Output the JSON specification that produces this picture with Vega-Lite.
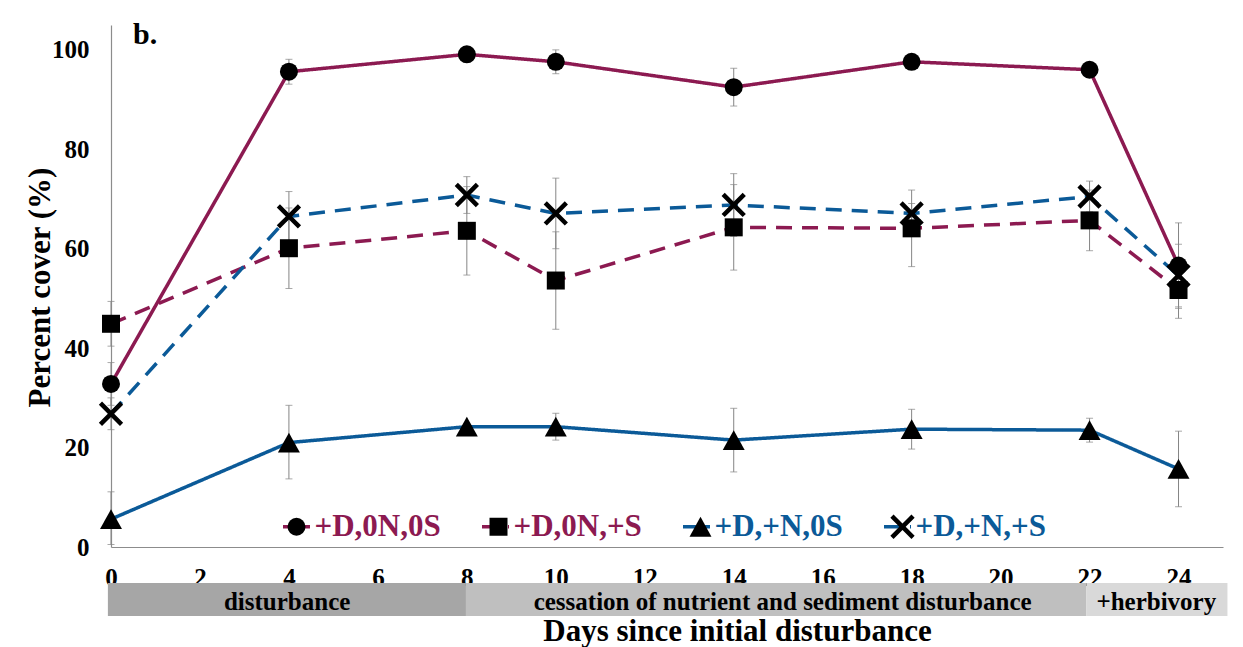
{
  "$schema": "https://vega.github.io/schema/vega-lite/v6.json",
  "width": 1112,
  "height": 522,
  "autosize": {"type": "none"},
  "padding": {"left": 111, "top": 25, "right": 20, "bottom": 100},
  "background": "white",
  "config": {
    "view": {"stroke": null},
    "font": "Liberation Serif",
    "axis": {
      "labelFont": "Liberation Serif",
      "labelFontWeight": "bold",
      "labelFontSize": 25,
      "labelColor": "black",
      "titleFont": "Liberation Serif",
      "titleFontWeight": "bold",
      "titleFontSize": 31,
      "titleColor": "black",
      "domainColor": "#8c8c8c",
      "domainWidth": 1.2,
      "ticks": false,
      "grid": false,
      "labelFlush": false,
      "labelOverlap": false,
      "labelBound": false
    }
  },
  "title": {
    "text": "b.",
    "anchor": "start",
    "frame": "group",
    "orient": "top",
    "offset": -49,
    "dx": 22,
    "font": "Liberation Serif",
    "fontWeight": "bold",
    "fontSize": 30,
    "color": "black",
    "baseline": "alphabetic"
  },
  "datasets": {
    "obs": [
      {"series": "+D,0N,0S", "day": 0, "value": 32.8, "lo": 28.5, "hi": 37.1},
      {"series": "+D,0N,0S", "day": 4, "value": 95.6, "lo": 93.1, "hi": 98.1},
      {"series": "+D,0N,0S", "day": 8, "value": 99.1, "lo": 98.5, "hi": 99.7},
      {"series": "+D,0N,0S", "day": 10, "value": 97.6, "lo": 95.2, "hi": 100.0},
      {"series": "+D,0N,0S", "day": 14, "value": 92.5, "lo": 88.7, "hi": 96.3},
      {"series": "+D,0N,0S", "day": 18, "value": 97.6, "lo": 96.1, "hi": 99.1},
      {"series": "+D,0N,0S", "day": 22, "value": 96.0, "lo": 95.2, "hi": 96.8},
      {"series": "+D,0N,0S", "day": 24, "value": 56.6, "lo": 48.0, "hi": 65.2},
      {"series": "+D,0N,+S", "day": 0, "value": 44.9, "lo": 40.4, "hi": 49.4},
      {"series": "+D,0N,+S", "day": 4, "value": 60.1, "lo": 52.0, "hi": 68.2},
      {"series": "+D,0N,+S", "day": 8, "value": 63.6, "lo": 54.7, "hi": 72.5},
      {"series": "+D,0N,+S", "day": 10, "value": 53.6, "lo": 43.8, "hi": 63.4},
      {"series": "+D,0N,+S", "day": 14, "value": 64.3, "lo": 55.7, "hi": 72.9},
      {"series": "+D,0N,+S", "day": 18, "value": 64.1, "lo": 56.4, "hi": 71.8},
      {"series": "+D,0N,+S", "day": 22, "value": 65.7, "lo": 59.6, "hi": 71.8},
      {"series": "+D,0N,+S", "day": 24, "value": 51.7, "lo": 46.0, "hi": 57.4},
      {"series": "+D,+N,0S", "day": 0, "value": 5.6, "lo": 0.5, "hi": 11.1},
      {"series": "+D,+N,0S", "day": 4, "value": 21.0, "lo": 13.7, "hi": 28.5},
      {"series": "+D,+N,0S", "day": 8, "value": 24.2, "lo": 23.7, "hi": 24.7},
      {"series": "+D,+N,0S", "day": 10, "value": 24.2, "lo": 21.5, "hi": 26.9},
      {"series": "+D,+N,0S", "day": 14, "value": 21.5, "lo": 15.1, "hi": 27.9},
      {"series": "+D,+N,0S", "day": 18, "value": 23.7, "lo": 19.7, "hi": 27.7},
      {"series": "+D,+N,0S", "day": 22, "value": 23.5, "lo": 21.1, "hi": 25.9},
      {"series": "+D,+N,0S", "day": 24, "value": 15.7, "lo": 8.1, "hi": 23.3},
      {"series": "+D,+N,+S", "day": 0, "value": 26.8, "lo": 23.6, "hi": 30.0},
      {"series": "+D,+N,+S", "day": 4, "value": 66.5, "lo": 61.5, "hi": 71.5},
      {"series": "+D,+N,+S", "day": 8, "value": 70.8, "lo": 67.1, "hi": 74.5},
      {"series": "+D,+N,+S", "day": 10, "value": 67.1, "lo": 60.0, "hi": 74.2},
      {"series": "+D,+N,+S", "day": 14, "value": 68.8, "lo": 62.5, "hi": 75.1},
      {"series": "+D,+N,+S", "day": 18, "value": 67.1, "lo": 65.1, "hi": 69.1},
      {"series": "+D,+N,+S", "day": 22, "value": 70.5, "lo": 67.4, "hi": 73.6},
      {"series": "+D,+N,+S", "day": 24, "value": 54.6, "lo": 48.3, "hi": 60.9}
    ],
    "phases": [
      {"phase": "disturbance", "start": -0.07, "end": 7.98, "mid": 3.96},
      {"phase": "cessation of nutrient and sediment disturbance", "start": 7.98, "end": 21.93, "mid": 15.1},
      {"phase": "+herbivory", "start": 21.93, "end": 25.1, "mid": 23.5}
    ]
  },
  "layer": [
    {
      "data": {"name": "phases"},
      "mark": {"type": "rect"},
      "encoding": {
        "x": {"field": "start", "type": "quantitative", "scale": {"domain": [0, 25], "nice": false, "zero": false}, "title": "Days since initial disturbance"},
        "x2": {"field": "end"},
        "y": {"datum": -7.24, "type": "quantitative", "scale": {"domain": [0, 105], "nice": false, "zero": false}, "title": "Percent cover (%)"},
        "y2": {"datum": -13.9},
        "fill": {"field": "phase", "type": "nominal", "scale": {"domain": ["disturbance", "cessation of nutrient and sediment disturbance", "+herbivory"], "range": ["#a6a6a6", "#bfbfbf", "#d9d9d9"]}, "legend": null}
      }
    },
    {
      "data": {"name": "phases"},
      "mark": {"type": "text", "font": "Liberation Serif", "fontWeight": "bold", "fontSize": 25, "baseline": "middle", "align": "center", "color": "black"},
      "encoding": {
        "x": {"field": "mid", "type": "quantitative", "scale": {"domain": [0, 25], "nice": false, "zero": false}, "title": "Days since initial disturbance"},
        "y": {"datum": -11.07, "type": "quantitative", "scale": {"domain": [0, 105], "nice": false, "zero": false}, "title": "Percent cover (%)"},
        "text": {"field": "phase", "type": "nominal"}
      }
    },
    {
      "data": {"name": "obs"},
      "mark": {"type": "errorbar", "color": "#858585", "thickness": 1, "ticks": {"size": 7, "thickness": 1, "color": "#858585"}, "rule": {"color": "#858585", "strokeWidth": 1}},
      "encoding": {
        "x": {"field": "day", "type": "quantitative", "scale": {"domain": [0, 25], "nice": false, "zero": false}, "title": "Days since initial disturbance"},
        "y": {"field": "lo", "type": "quantitative", "scale": {"domain": [0, 105], "nice": false, "zero": false}, "title": "Percent cover (%)"},
        "y2": {"field": "hi"}
      }
    },
    {
      "data": {"name": "obs"},
      "mark": {"type": "line", "strokeWidth": 3.5},
      "encoding": {
        "x": {
          "field": "day", "type": "quantitative",
          "scale": {"domain": [0, 25], "nice": false, "zero": false},
          "title": "Days since initial disturbance",
          "axis": {"values": [0, 2, 4, 6, 8, 10, 12, 14, 16, 18, 20, 22, 24], "labelPadding": 18, "titleX": 626, "titleY": 93, "titleAlign": "center", "titleBaseline": "alphabetic"}
        },
        "y": {
          "field": "value", "type": "quantitative",
          "scale": {"domain": [0, 105], "nice": false, "zero": false},
          "title": "Percent cover (%)",
          "axis": {"values": [0, 20, 40, 60, 80, 100], "labelPadding": 22, "titleX": -62, "titleY": 262, "titleAngle": 270, "titleAlign": "center", "titleBaseline": "alphabetic"}
        },
        "color": {
          "field": "series", "type": "nominal",
          "scale": {"domain": ["+D,0N,0S", "+D,0N,+S", "+D,+N,0S", "+D,+N,+S"], "range": ["#8c1a51", "#8c1a51", "#0b5a98", "#0b5a98"]},
          "legend": {"orient": "none", "legendX": 170, "legendY": 486, "direction": "horizontal", "title": null, "padding": 0, "symbolType": "stroke", "symbolSize": 729, "symbolStrokeWidth": 3.5, "labelFont": "Liberation Serif", "labelFontWeight": "bold", "labelFontSize": 31, "labelOffset": 2.5, "labelLimit": 0, "columnPadding": 34, "encode": {"labels": {"update": {"fill": {"scale": "color", "field": "value"}}}}}
        },
        "strokeDash": {
          "field": "series", "type": "nominal",
          "scale": {"domain": ["+D,0N,0S", "+D,0N,+S", "+D,+N,0S", "+D,+N,+S"], "range": [[1, 0], [16, 10], [1, 0], [16, 10]]},
          "legend": {"orient": "none", "legendX": 170, "legendY": 486, "direction": "horizontal", "title": null, "padding": 0, "symbolType": "stroke", "symbolSize": 729, "symbolStrokeWidth": 3.5, "labelFont": "Liberation Serif", "labelFontWeight": "bold", "labelFontSize": 31, "labelOffset": 2.5, "labelLimit": 0, "columnPadding": 34}
        }
      }
    },
    {
      "data": {"name": "obs"},
      "mark": {"type": "point", "filled": true, "fill": "black", "strokeWidth": 0, "opacity": 1, "size": 324},
      "encoding": {
        "x": {"field": "day", "type": "quantitative", "scale": {"domain": [0, 25], "nice": false, "zero": false}, "title": "Days since initial disturbance"},
        "y": {"field": "value", "type": "quantitative", "scale": {"domain": [0, 105], "nice": false, "zero": false}, "title": "Percent cover (%)"},
        "shape": {
          "field": "series", "type": "nominal", "sort": "descending",
          "scale": {"range": ["circle", "square", "M0,-1.1L1.22,1.1L-1.22,1.1Z", "M-1.35,-0.996L-0.996,-1.35L0,-0.354L0.996,-1.35L1.35,-0.996L0.354,0L1.35,0.996L0.996,1.35L0,0.354L-0.996,1.35L-1.35,0.996L-0.354,0Z"]},
          "legend": {"orient": "none", "legendX": 170, "legendY": 486, "direction": "horizontal", "title": null, "padding": 0, "symbolSize": 324, "symbolStrokeWidth": 0, "symbolFillColor": "black", "symbolOpacity": 1, "labelFont": "Liberation Serif", "labelFontWeight": "bold", "labelFontSize": 31, "labelOffset": 2.5, "labelLimit": 0, "labelExpr": "''", "columnPadding": 168}
        }
      }
    }
  ]
}
